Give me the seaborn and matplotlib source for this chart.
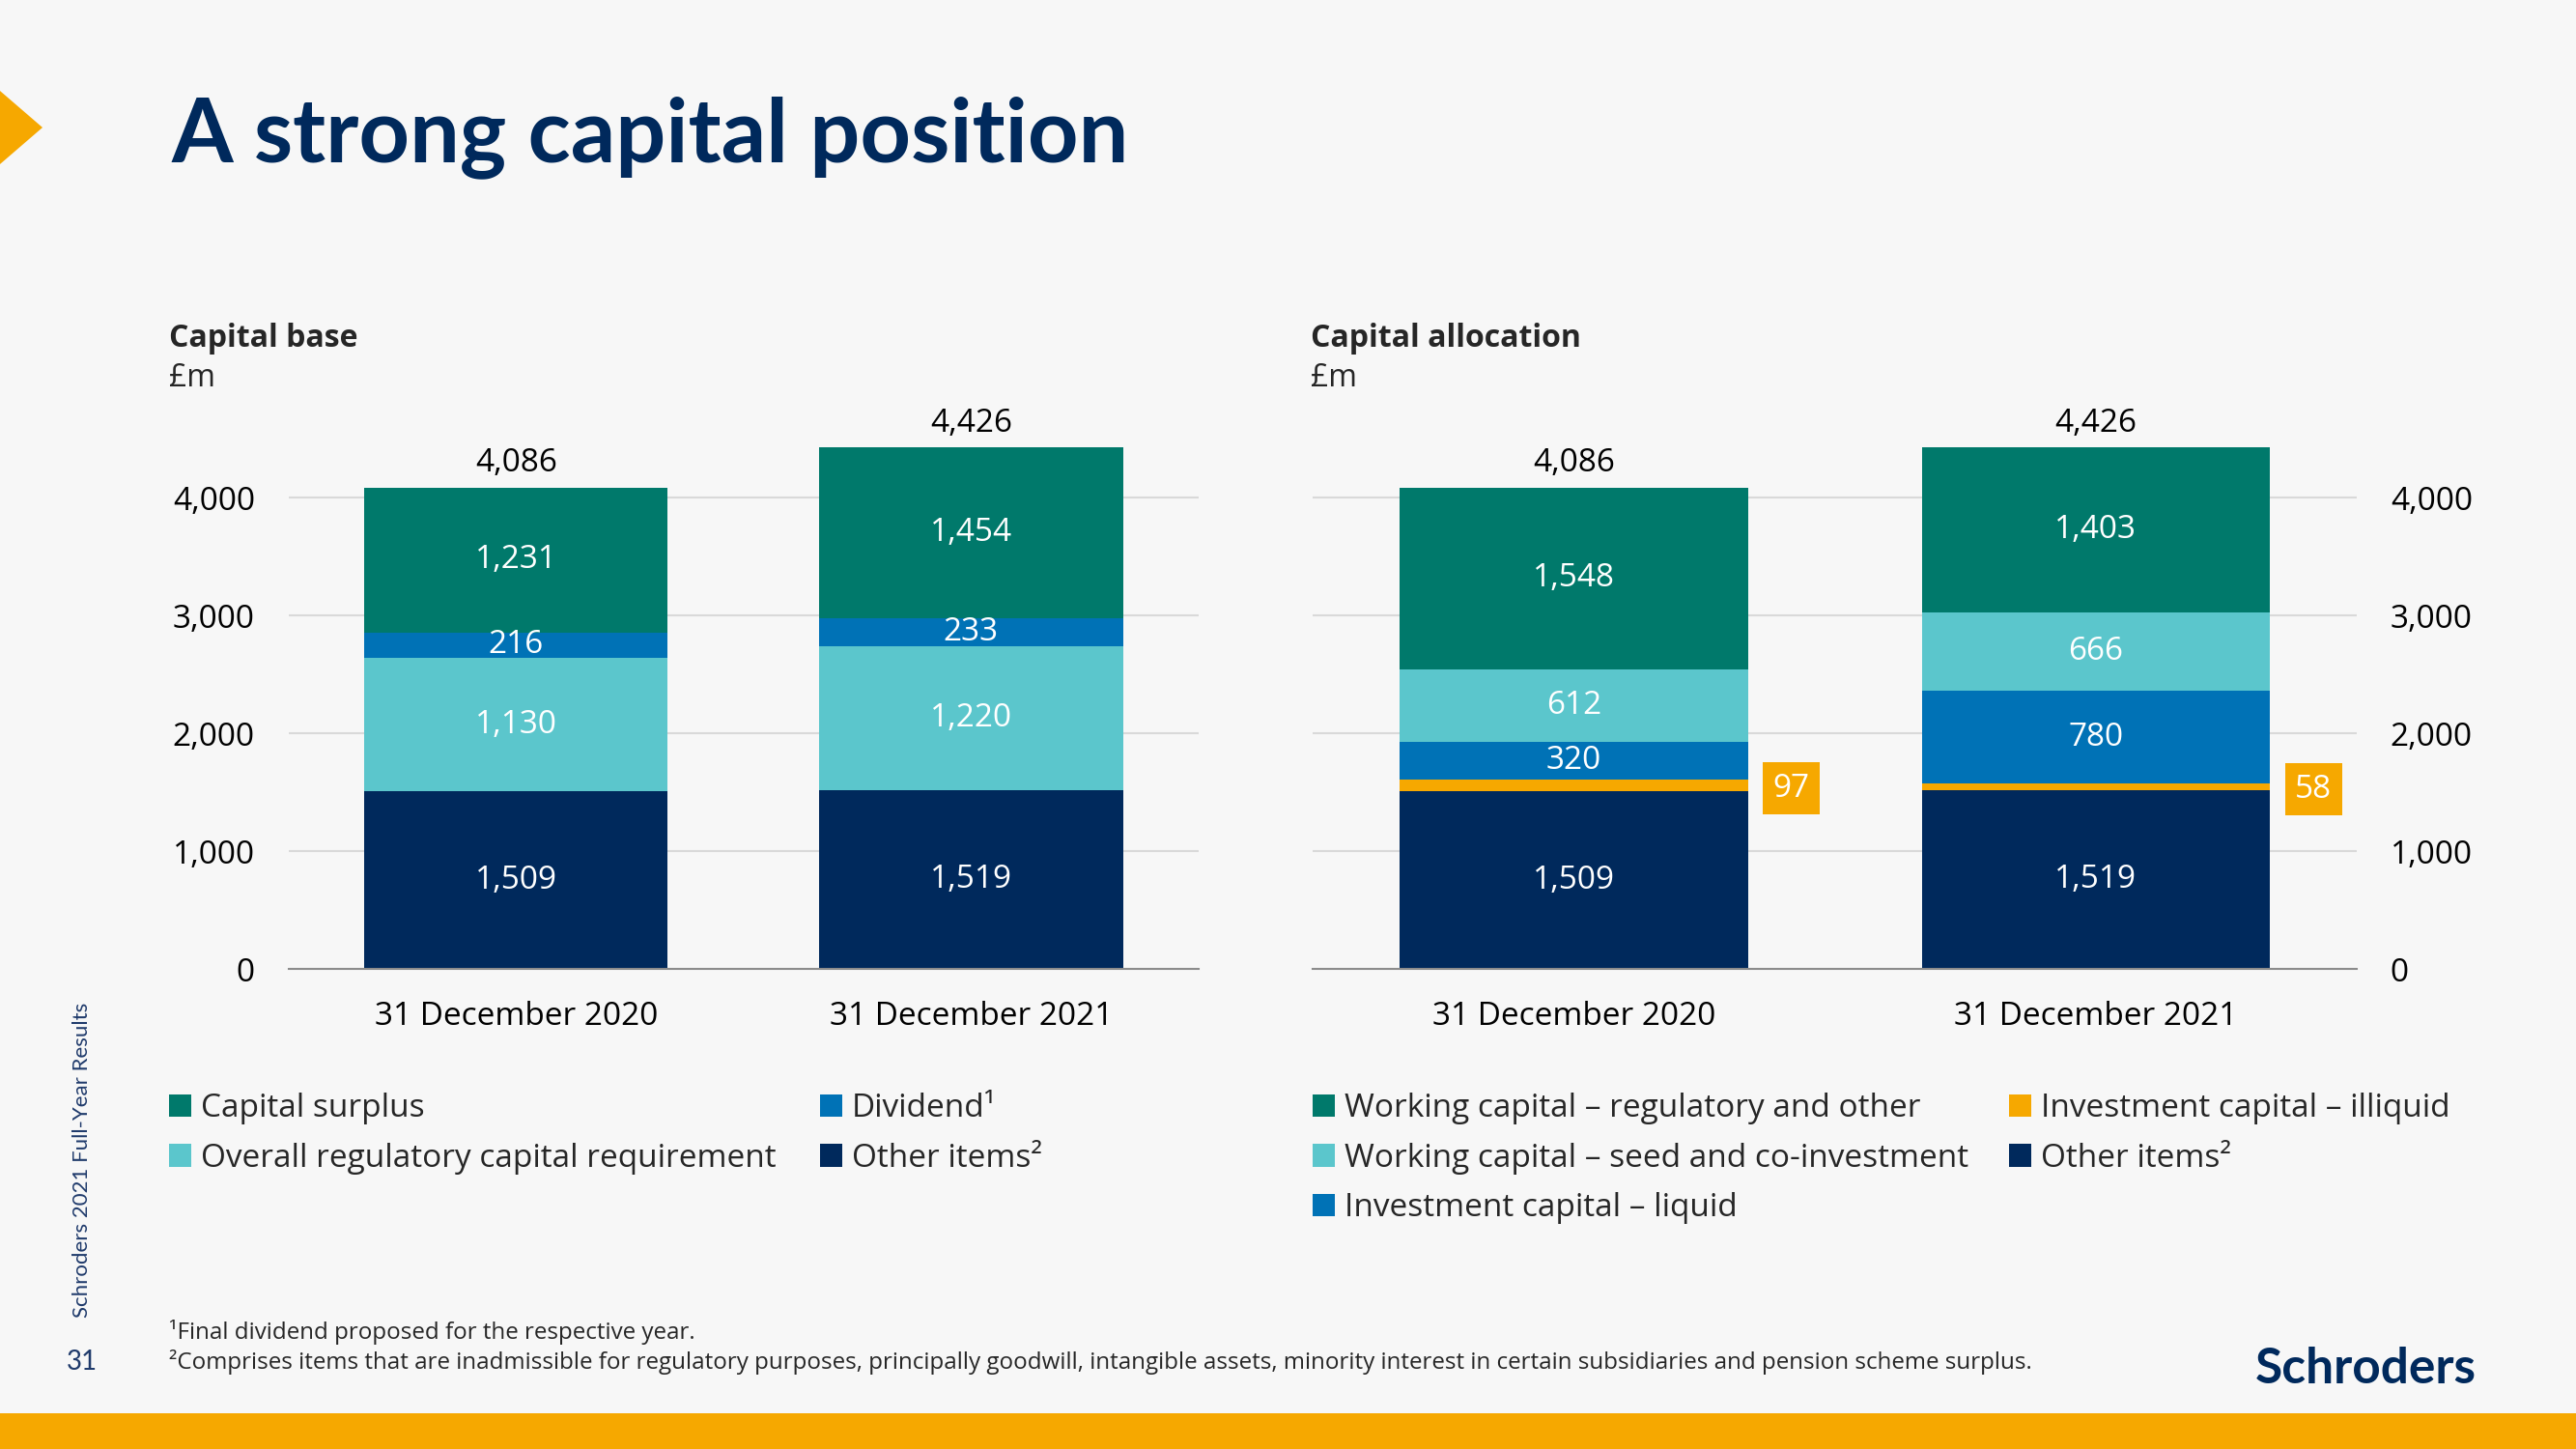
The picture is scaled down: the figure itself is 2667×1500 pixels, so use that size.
import numpy as np
import matplotlib.pyplot as plt
import seaborn as sns
from matplotlib.patches import Patch, Polygon, Rectangle

# categories
dates = ["31 December 2020", "31 December 2021"]

# capital base, £m (bottom to top)
base_other = [1509, 1519]
base_requirement = [1130, 1220]
base_dividend = [216, 233]
base_surplus = [1231, 1454]

# capital allocation, £m (bottom to top)
alloc_other = [1509, 1519]
alloc_illiquid = [97, 58]
alloc_liquid = [320, 780]
alloc_seed = [612, 666]
alloc_regulatory = [1548, 1403]

y_ticks = [0, 1000, 2000, 3000, 4000]

# colours
teal = "#00796B"
light = "#5BC6CC"
blue = "#0072B6"
navy = "#00295C"
orange = "#F6A800"
bg = "#F7F7F7"
grey = "#8C8C8C"

sns.set_theme(style="white")
plt.rcParams["font.family"] = ["Open Sans", "Noto Sans", "DejaVu Sans"]

fs = 24

fig = plt.figure(figsize=(26.67, 15), dpi=100, facecolor=bg)

ax1 = fig.add_axes([0.112, 0.3313, 0.3533, 0.366], facecolor=bg)
ax2 = fig.add_axes([0.5096, 0.3313, 0.4053, 0.366], facecolor=bg)


def stacked(ax, layers, colors, skip=()):
    tops = np.cumsum(layers, axis=0)
    # draw the running totals from the top down, each one covers the rest
    for i in range(len(layers) - 1, -1, -1):
        sns.barplot(x=dates, y=tops[i], color=colors[i], width=0.667,
                    saturation=1, linewidth=0, ax=ax)
    for i, layer in enumerate(layers):
        if i in skip:
            continue
        for j, v in enumerate(layer):
            ax.text(j, tops[i][j] - v / 2, f"{v:,}", color="white",
                    fontsize=fs, ha="center", va="center")
    for j, t in enumerate(tops[-1]):
        ax.annotate(f"{t:,}", (j, t), xytext=(0, 18), textcoords="offset points",
                    ha="center", va="center", fontsize=fs, color="black")
    return tops


def style_axis(ax):
    ax.set_xlim(-0.5, 1.5)
    ax.set_ylim(0, 4500)
    ax.set_yticks(y_ticks)
    ax.set_yticklabels([f"{v:,}" for v in y_ticks])
    ax.set_xlabel("")
    ax.set_ylabel("")
    ax.set_axisbelow(True)
    ax.yaxis.grid(True, color="#D9D9D9", linewidth=1.5)
    ax.xaxis.grid(False)
    for s in ["left", "right", "top"]:
        ax.spines[s].set_visible(False)
    ax.spines["bottom"].set_color(grey)
    ax.spines["bottom"].set_linewidth(1.5)
    ax.set_xticks([-0.5, 0.5, 1.5], minor=True)
    ax.tick_params(axis="x", which="major", length=0, pad=24, labelsize=fs, labelcolor="black")
    ax.tick_params(axis="x", which="minor", length=8, width=1.5, color=grey, direction="out")
    ax.tick_params(axis="y", length=0, pad=25, labelsize=fs, labelcolor="black")


# left chart - capital base
stacked(ax1, [base_other, base_requirement, base_dividend, base_surplus],
        [navy, light, blue, teal])
style_axis(ax1)

# right chart - capital allocation
tops2 = stacked(ax2, [alloc_other, alloc_illiquid, alloc_liquid, alloc_seed, alloc_regulatory],
                [navy, orange, blue, light, teal], skip=(1,))
style_axis(ax2)
ax2.yaxis.tick_right()
ax2.tick_params(axis="y", length=0, pad=25)
for j, v in enumerate(alloc_illiquid):
    ax2.text(j + 0.382, tops2[1][j] - v / 2 - 25, f"{v}", color="white", fontsize=fs,
             ha="left", va="center",
             bbox=dict(boxstyle="square,pad=0.32", facecolor=orange, edgecolor="none"))

# chart headings
fig.text(0.0656, 0.7664, "Capital base", fontsize=23, fontweight="bold", va="center")
fig.text(0.0656, 0.739, "£m", fontsize=23, va="center")
fig.text(0.5089, 0.7664, "Capital allocation", fontsize=23, fontweight="bold", va="center")
fig.text(0.5089, 0.739, "£m", fontsize=23, va="center")


def legend_col(names, colors, x, y):
    handles = [Patch(facecolor=c, edgecolor="none", label=n) for n, c in zip(names, colors)]
    fig.legend(handles=handles, loc="upper left", bbox_to_anchor=(x, y), frameon=False,
               fontsize=fs, handlelength=0.7, handleheight=0.7, handletextpad=0.3,
               labelspacing=0.56, borderpad=0, borderaxespad=0)


legend_col(["Capital surplus", "Overall regulatory capital requirement"], [teal, light], 0.0656, 0.246)
legend_col(["Dividend¹", "Other items²"], [blue, navy], 0.3183, 0.246)
legend_col(["Working capital – regulatory and other", "Working capital – seed and co-investment",
            "Investment capital – liquid"], [teal, light, blue], 0.5096, 0.246)
legend_col(["Investment capital – illiquid", "Other items²"], [orange, navy], 0.7799, 0.246)

# footnotes
fig.text(0.0656, 0.0807, "¹Final dividend proposed for the respective year.", fontsize=17.4, va="center")
fig.text(0.0656, 0.06, "²Comprises items that are inadmissible for regulatory purposes, principally goodwill, "
         "intangible assets, minority interest in certain subsidiaries and pension scheme surplus.",
         fontsize=17.4, va="center")

# slide furniture
fig.text(0.0664, 0.8887, "A strong capital position", fontsize=66, fontweight="bold",
         color=navy, family="Lato", va="baseline")
fig.patches.append(Polygon([[0, 0.9373], [0.0165, 0.912], [0, 0.8867]], closed=True,
                           facecolor=orange, edgecolor="none", transform=fig.transFigure))
fig.patches.append(Rectangle((0, 0), 1, 0.0247, facecolor=orange, edgecolor="none",
                             transform=fig.transFigure))
fig.text(0.0319, 0.1993, "Schroders 2021 Full-Year Results", rotation=90, fontsize=16,
         color="#1F3A6B", family="Lato", ha="center", va="center")
fig.text(0.0319, 0.06, "31", fontsize=20, color="#1F3A6B", family="Lato", ha="center", va="center")
fig.text(0.9614, 0.0553, "Schroders", fontsize=37, fontweight="bold", color=navy,
         family="Lato", ha="right", va="center")

fig.savefig("out.png", dpi=100, facecolor=bg)
